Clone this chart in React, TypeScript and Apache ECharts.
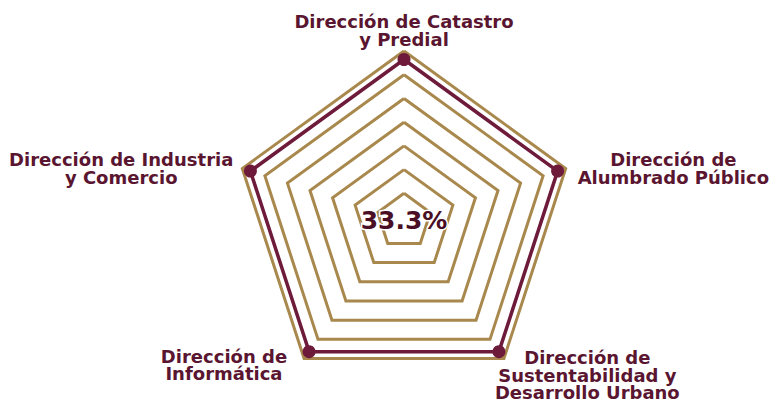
import React, { useEffect, useRef } from "react";
import * as echarts from "echarts";

// ---- data ----
const INDICATORS: string[] = [
  "Dirección de Catastro\ny Predial",
  "Dirección de Industria\ny Comercio",
  "Dirección de\nInformática",
  "Dirección de\nSustentabilidad y\nDesarrollo Urbano",
  "Dirección de\nAlumbrado Público",
];
const VALUES: number[] = [95, 95, 95, 95, 95];
const MAX_VALUE = 100;
const CENTER_LABEL = "33.3%";

// ---- style ----
const GOLD = "#a8884c";
const WINE = "#6e1a3a";
const TEXT = "#5a1530";
const CENTER_TEXT = "#4a0f25";
const FONT = "DejaVu Sans";
const CX = 404;
const CY = 221;
const RADIUS = 170;
const LINE_H = 17.5;
// fine split so the visible rings sit where the reference draws them
const SPLITS = 43;
const VISIBLE_RINGS = [0, 7, 13, 19, 25, 31, 37];
const RING_COLORS = Array.from({ length: SPLITS }, (_, k) =>
  VISIBLE_RINGS.indexOf(k) >= 0 ? GOLD : "rgba(0,0,0,0)"
);
// per label padding: [top of first line, right, bottom of last line, left]
const LABEL_PAD: number[][] = [
  [0, 0, 3, 0],
  [0, 9, 0, 0],
  [13, 17, 0, 0],
  [33, 0, 0, -9],
  [0, 0, 0, 12],
];

const rich: Record<string, any> = {};
INDICATORS.forEach((name, i) => {
  const lines = name.split("\n");
  const p = LABEL_PAD[i];
  lines.forEach((_, j) => {
    const pt = j === 0 ? p[0] : 0;
    const pb = j === lines.length - 1 ? p[2] : 0;
    rich[`n${i}_${j}`] = {
      fontFamily: FONT,
      fontWeight: "bold",
      fontSize: 18,
      lineHeight: LINE_H + pt + pb,
      color: TEXT,
      align: "center",
      padding: [pt, p[1], pb, p[3]],
    };
  });
});

export default function App() {
  const ref = useRef<HTMLDivElement>(null);
  useEffect(() => {
    if (!ref.current) return;
    const chart = echarts.init(ref.current, null, { renderer: "svg" });
    chart.setOption({
      animation: false,
      backgroundColor: "#ffffff",
      radar: {
        center: [CX, CY],
        radius: RADIUS,
        startAngle: 90,
        shape: "polygon",
        splitNumber: SPLITS,
        nameGap: 0,
        indicator: INDICATORS.map((name) => ({ name, min: 0, max: MAX_VALUE })),
        axisName: {
          formatter: (name: string) => {
            const i = INDICATORS.indexOf(name);
            return name
              .split("\n")
              .map((l, j) => `{n${i}_${j}|${l}}`)
              .join("\n");
          },
          rich,
        },
        axisLine: { show: false },
        axisTick: { show: false },
        axisLabel: { show: false },
        splitArea: { show: false },
        splitLine: { lineStyle: { color: RING_COLORS, width: 3 } },
      },
      series: [
        {
          type: "radar",
          symbol: "circle",
          symbolSize: 13,
          lineStyle: { color: WINE, width: 3.5 },
          itemStyle: { color: WINE },
          data: [{ value: VALUES, name: "Avance" }],
        },
      ],
      graphic: [
        {
          type: "text",
          x: CX,
          y: CY - 1,
          z: 100,
          style: {
            text: CENTER_LABEL,
            fill: CENTER_TEXT,
            stroke: "#ffffff",
            lineWidth: 3,
            font: `bold 25px "${FONT}"`,
            align: "center",
            verticalAlign: "middle",
          },
        },
      ],
    });
    return () => chart.dispose();
  }, []);
  return (
    <div
      ref={ref}
      style={{ position: "fixed", left: 0, top: 0, width: 773, height: 401 }}
    />
  );
}
